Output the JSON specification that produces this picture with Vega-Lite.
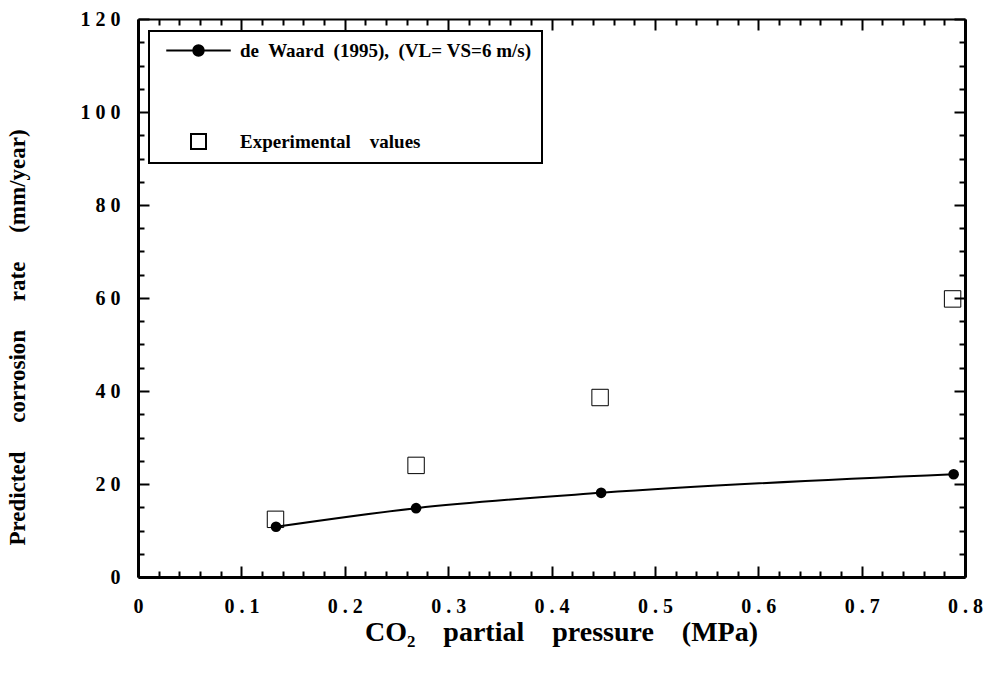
{
  "$schema": "https://vega.github.io/schema/vega-lite/v6.json",
  "width": 827,
  "height": 558,
  "autosize": {"type": "none"},
  "padding": {"left": 138, "top": 19, "right": 29, "bottom": 103},
  "background": "white",
  "config": {
    "view": {"stroke": null},
    "font": "Liberation Serif",
    "legend": {"strokeWidth": 2},
    "axis": {
      "grid": false,
      "domainColor": "black",
      "tickColor": "black",
      "labelFont": "Liberation Serif",
      "labelFontWeight": "bold",
      "labelFontSize": 20,
      "labelColor": "black",
      "titleFont": "Liberation Serif",
      "titleFontWeight": "bold",
      "titleColor": "black",
      "labelOverlap": false,
      "labelFlush": false,
      "tickWidth": 2
    }
  },
  "data": {
    "values": [
      {"p": 0.133, "rate": 12.4, "series": "Experimental\u00a0\u00a0\u00a0 values"},
      {"p": 0.269, "rate": 24.0, "series": "Experimental\u00a0\u00a0\u00a0 values"},
      {"p": 0.447, "rate": 38.6, "series": "Experimental\u00a0\u00a0\u00a0 values"},
      {"p": 0.788, "rate": 59.8, "series": "Experimental\u00a0\u00a0\u00a0 values"},
      {"p": 0.1335, "rate": 10.8, "series": "de\u00a0 Waard\u00a0 (1995),\u00a0 (VL=\u00a0VS=6\u00a0m/s)"},
      {"p": 0.269, "rate": 14.8, "series": "de\u00a0 Waard\u00a0 (1995),\u00a0 (VL=\u00a0VS=6\u00a0m/s)"},
      {"p": 0.448, "rate": 18.1, "series": "de\u00a0 Waard\u00a0 (1995),\u00a0 (VL=\u00a0VS=6\u00a0m/s)"},
      {"p": 0.789, "rate": 22.1, "series": "de\u00a0 Waard\u00a0 (1995),\u00a0 (VL=\u00a0VS=6\u00a0m/s)"}
    ]
  },
  "layer": [
    {
      "transform": [{"filter": "indexof(datum.series, 'Waard') >= 0"}],
      "mark": {"type": "line", "interpolate": "monotone", "color": "black", "strokeWidth": 2},
      "encoding": {
        "x": {
          "field": "p", "type": "quantitative",
          "scale": {"domain": [0, 0.8], "nice": false, "zero": false},
          "axis": {
            "orient": "bottom",
            "tickCount": 40,
            "domainWidth": 3,
            "tickSize": {"condition": {"test": "abs(datum.value*10 - round(datum.value*10)) < 0.001", "value": -11}, "value": -6},
            "labelPadding": 30,
            "labelExpr": "abs(datum.value*10 - round(datum.value*10)) < 0.001 ? (datum.value == 0 ? '0' : replace(format(datum.value, '.1f'), '.', ' . ')) : ''",
            "title": "CO\u2082\u00a0\u00a0\u00a0 partial\u00a0\u00a0\u00a0 pressure\u00a0\u00a0\u00a0 (MPa)",
            "titleFontSize": 28,
            "titleBaseline": "middle",
            "titleX": 423,
            "titleY": 55
          }
        },
        "y": {
          "field": "rate", "type": "quantitative",
          "scale": {"domain": [0, 120], "nice": false},
          "axis": {
            "orient": "left",
            "tickCount": 24,
            "domainWidth": 3,
            "tickSize": {"condition": {"test": "datum.value % 20 === 0", "value": -11}, "value": -6},
            "labelPadding": 29,
            "labelExpr": "datum.value % 20 === 0 ? join(split(format(datum.value, 'd'), ''), ' ') : ''",
            "title": "Predicted\u00a0\u00a0\u00a0\u00a0 corrosion\u00a0\u00a0\u00a0\u00a0 rate\u00a0\u00a0\u00a0\u00a0 (mm/year)",
            "titleFontSize": 23,
            "titlePadding": 51,
            "titleY": 318
          }
        }
      }
    },
    {
      "transform": [{"filter": "indexof(datum.series, 'Experimental') >= 0"}],
      "mark": {"type": "point", "stroke": "black", "strokeWidth": 1, "fill": "transparent", "size": 270, "opacity": 1},
      "encoding": {
        "x": {
          "field": "p", "type": "quantitative",
          "axis": {
            "orient": "top",
            "tickCount": 40,
            "domainWidth": 2,
            "tickSize": {"condition": {"test": "abs(datum.value*10 - round(datum.value*10)) < 0.001", "value": -11}, "value": -6},
            "labels": false,
            "title": null
          }
        },
        "y": {
          "field": "rate", "type": "quantitative",
          "axis": {
            "orient": "right",
            "tickCount": 24,
            "domainWidth": 3,
            "tickSize": {"condition": {"test": "datum.value % 20 === 0", "value": -11}, "value": -6},
            "labels": false,
            "title": null
          }
        },
        "shape": {
          "field": "series", "type": "nominal",
          "scale": {
            "domain": ["de\u00a0 Waard\u00a0 (1995),\u00a0 (VL=\u00a0VS=6\u00a0m/s)", "Experimental\u00a0\u00a0\u00a0 values"],
            "range": ["M-4.3,0H4.3M-0.7,0A0.7,0.7,0,1,0,0.7,0A0.7,0.7,0,1,0,-0.7,0M-0.45,0A0.45,0.45,0,1,0,0.45,0A0.45,0.45,0,1,0,-0.45,0M-0.2,0A0.2,0.2,0,1,0,0.2,0A0.2,0.2,0,1,0,-0.2,0", "square"]
          },
          "legend": {
            "title": null,
            "orient": "none",
            "legendX": 11,
            "legendY": 12,
            "padding": 10,
            "rowPadding": 69,
            "symbolOffset": 30,
            "labelOffset": 32,
            "symbolSize": 225,
            "symbolStrokeWidth": 2,
            "symbolStrokeColor": "black",
            "labelFont": "Liberation Serif",
            "labelFontWeight": "bold",
            "labelFontSize": 19,
            "labelColor": "black",
            "labelLimit": 500,
            "fillColor": "white",
            "strokeColor": "black"
          }
        }
      }
    },
    {
      "transform": [{"filter": "indexof(datum.series, 'Waard') >= 0"}],
      "mark": {"type": "point", "shape": "circle", "filled": true, "color": "black", "size": 113, "opacity": 1},
      "encoding": {
        "x": {"field": "p", "type": "quantitative", "axis": null},
        "y": {"field": "rate", "type": "quantitative", "axis": null}
      }
    }
  ]
}
